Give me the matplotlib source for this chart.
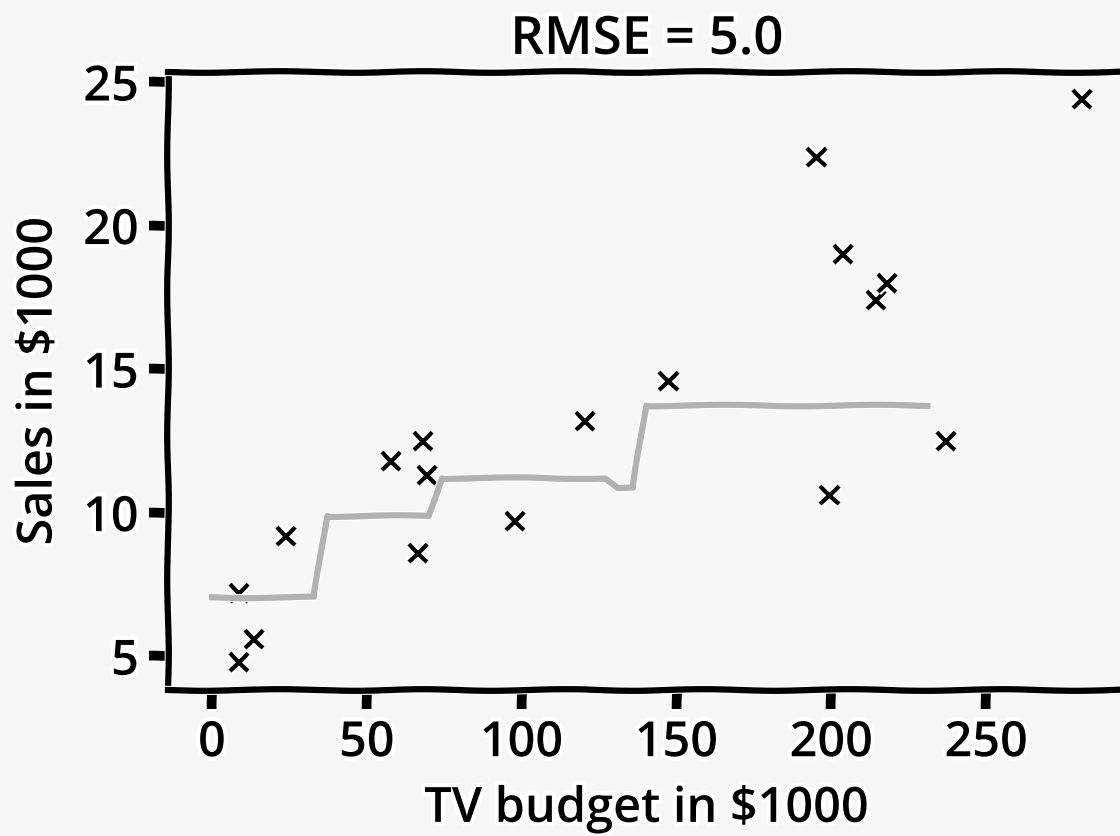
import matplotlib
matplotlib.use("Agg")
import matplotlib.pyplot as plt
from matplotlib import patheffects
import numpy as np

# Data
tv_budget = [8.7, 8.7, 13.5, 23.9, 57.7, 66.5, 68.1, 69.4, 97.7, 120.3,
             147.4, 195.2, 199.4, 203.9, 214.5, 218.1, 237.1, 281.0]
sales = [7.2, 4.8, 5.6, 9.2, 11.8, 8.6, 12.5, 11.3, 9.7, 13.2,
         14.6, 22.4, 10.6, 19.0, 17.4, 18.0, 12.5, 24.4]

# Fitted (step-like) prediction curve
fit_x = [0, 33, 37, 70, 74, 127, 131, 136, 140, 231]
fit_y = [7.05, 7.05, 9.88, 9.88, 11.2, 11.2, 10.85, 10.85, 13.73, 13.73]

title_text = "RMSE = 5.0"
x_ticks = [0, 50, 100, 150, 200, 250]
y_ticks = [5, 10, 15, 20, 25]

plt.xkcd(scale=0.8, length=160, randomness=2)
plt.rcParams['font.family'] = ['Open Sans', 'DejaVu Sans']
plt.rcParams['font.weight'] = 'semibold'
plt.rcParams['axes.titleweight'] = 'semibold'
plt.rcParams['axes.labelweight'] = 'semibold'
plt.rcParams['path.effects'] = [patheffects.withStroke(linewidth=6, foreground='white')]

bg = '#f7f7f7'
fs = 35
fig = plt.figure(figsize=(11.2, 8.36), dpi=100, facecolor=bg)
ax = fig.add_axes([0.15, 0.1746, 0.855, 0.7393], facecolor=bg)

ax.plot(tv_budget, sales, linestyle='none', marker='x', color='k',
        markersize=13, markeredgewidth=3, zorder=2)
ax.plot(fit_x, fit_y, color='k', alpha=0.3, linewidth=4.5, zorder=3)

ax.set_xlim(-14.2, 295)
ax.set_ylim(3.82, 25.35)
ax.set_xticks(x_ticks)
ax.set_yticks(y_ticks)

for sp in ax.spines.values():
    sp.set_linewidth(4.5)

ax.tick_params(axis='both', which='major', length=14, width=7,
               labelsize=fs, pad=7)

ax.set_title(title_text, fontsize=38, pad=13)
ax.set_xlabel("TV budget in $1000", fontsize=fs, labelpad=12)
ax.set_ylabel("Sales in $1000", fontsize=fs, labelpad=14)

fig.savefig("out.png", dpi=100, facecolor=bg)
